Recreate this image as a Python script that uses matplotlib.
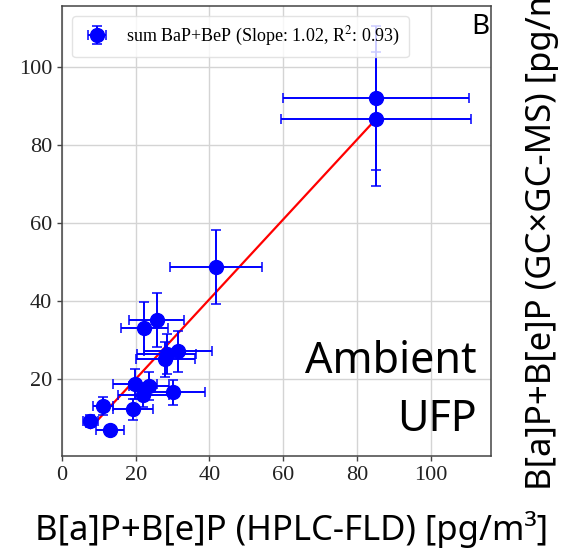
import numpy as np
import matplotlib
matplotlib.use("Agg")
import matplotlib.pyplot as plt

hplc = [85.2, 85.2, 41.8, 25.7, 22.3, 28.4, 31.4, 28.0, 19.9, 23.5, 22.1, 30.1, 11.1, 19.2, 7.7, 12.9]
gcms = [91.9, 86.6, 48.7, 35.2, 33.2, 26.5, 27.2, 25.1, 18.8, 18.4, 16.0, 16.7, 13.2, 12.3, 9.3, 7.0]
hplc_err = [25.2, 25.8, 12.5, 7.4, 6.4, 8.0, 9.2, 8.0, 6.0, 5.4, 7.0, 8.8, 2.8, 5.4, 2.0, 3.8]
gcms_err = [18.4, 17.1, 9.4, 7.0, 6.7, 5.2, 5.2, 4.5, 3.8, 3.6, 3.0, 3.2, 2.3, 2.6, 1.5, 1.0]

slope = 1.02
intercept = -0.3
r2 = 0.93

x_ticks = [0, 20, 40, 60, 80, 100]
y_ticks = [20, 40, 60, 80, 100]

W, H = 561, 549
fig = plt.figure(figsize=(W / 100, H / 100), dpi=100)
ax = fig.add_axes([62 / W, 1 - 456 / H, (490.7 - 62) / W, (456 - 6) / H])

serif = "Liberation Serif"
sans = "Noto Sans"
plt.rcParams["mathtext.fontset"] = "stix"

x = np.array(hplc)
y = np.array(gcms)

ax.errorbar(x, y, xerr=hplc_err, yerr=gcms_err, fmt="o", color="blue",
            ms=10, elinewidth=1.4, capsize=3.3, capthick=1.1, zorder=3,
            label=f"sum BaP+BeP (Slope: {slope:.2f}, R$^2$: {r2:.2f})")

xl = np.array([x.min(), x.max()])
ax.plot(xl, slope * xl + intercept, color="red", lw=1.6, zorder=2)

ax.set_xlim(0, 116.3)
ax.set_ylim(0.4, 115.5)
ax.set_xticks(x_ticks)
ax.set_yticks(y_ticks)
ax.grid(True, color="#d4d4d4", lw=1.0)
ax.set_axisbelow(True)
for s in ax.spines.values():
    s.set_color("#444444")
    s.set_linewidth(1.1)
ax.tick_params(length=3.5, width=1, color="#444444", labelsize=16, labelcolor="#222222")
for lab in ax.get_xticklabels() + ax.get_yticklabels():
    lab.set_family(serif)

leg = ax.legend(loc="upper left", prop={"family": serif, "size": 13},
                borderaxespad=0.55, handletextpad=0.7, handlelength=1.8,
                borderpad=0.5, edgecolor="#dddddd", fancybox=True)

# panel letter and annotation
ax.text(489, H - 13, "B", transform=None, ha="right", va="top",
        family=sans, fontsize=20, color="black")
fig.text(476.5 / W, 1 - 373.3 / H, "Ambient", ha="right", va="baseline",
         family=sans, fontsize=31)
fig.text(476.5 / W, 1 - 430.7 / H, "UFP", ha="right", va="baseline",
         family=sans, fontsize=31)

fig.text(35 / W, 1 - 540 / H, "B[a]P+B[e]P (HPLC-FLD) [pg/m³]", ha="left",
         va="baseline", family=sans, fontsize=25)
fig.text(551 / W, 1 - 490 / H, "B[a]P+B[e]P (GC×GC-MS) [pg/m³]", ha="left",
         va="baseline", rotation=90, rotation_mode="anchor",
         family=sans, fontsize=25)

fig.savefig("out.png", dpi=100)
